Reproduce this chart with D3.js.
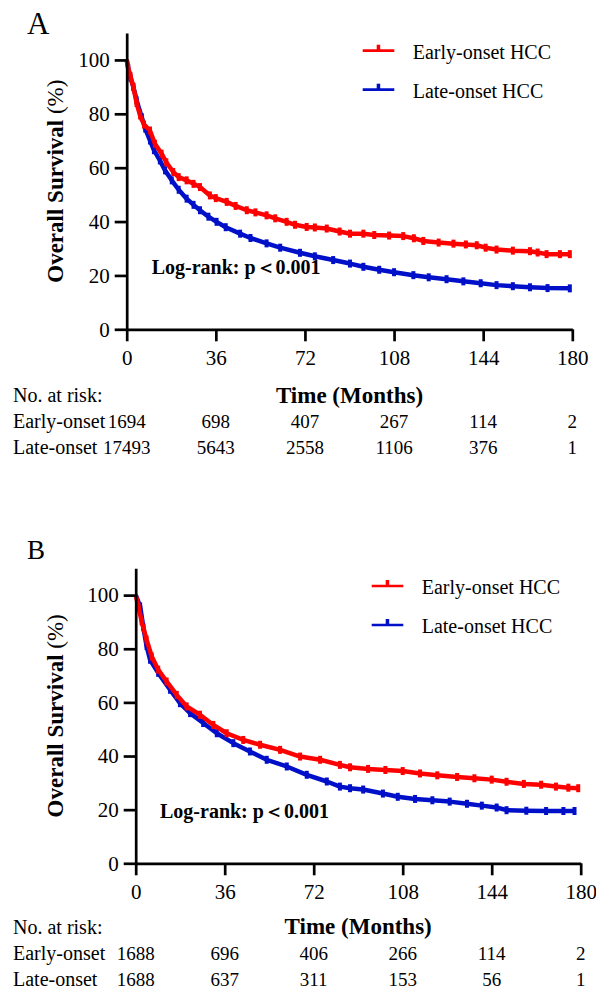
<!DOCTYPE html>
<html>
<head>
<meta charset="utf-8">
<script src="https://cdn.jsdelivr.net/npm/d3@7"></script>
<style>
  html, body { margin: 0; padding: 0; background: #fff; }
  svg { display: block; }
</style>
</head>
<body>
<svg id="chart" width="596" height="989"></svg>
<script>
// ---------------- DATA ----------------
const monthTicks = [0, 36, 72, 108, 144, 180];
const survivalTicks = [0, 20, 40, 60, 80, 100];
const seriesNames = ["Early-onset HCC", "Late-onset HCC"];
const riskRowLabels = ["Early-onset", "Late-onset"];

// Panel A (month, overall survival %)
const earlyA = [[0,100],[0.6,97],[1.5,94],[2.7,90],[4,84],[5.4,79.4],[7,76],[9.4,73.8],[11.4,68.9],[14.1,65.2],[16,62],[18.8,58.4],[21,56.5],[24.2,55.3],[27,54],[29.6,52.8],[33.6,49.7],[36,48.7],[40.4,47.3],[44,45.8],[48.5,44.2],[52,43.4],[56.5,42.3],[60,41.2],[64.6,39.9],[68,38.8],[72.7,38.0],[76,37.8],[80.8,37.4],[86,36.3],[90.2,35.5],[95.6,35.5],[100,35.0],[106,34.8],[111.7,34.6],[116,33.8],[119.8,32.8],[126,32.2],[132,31.8],[137,31.5],[141.4,31.2],[145,30.3],[149.4,29.6],[156,29.2],[162.9,29.0],[166,28.5],[169.6,27.9],[175,27.9],[179,27.9]];
const lateA = [[0,100],[0.6,97],[1.5,93.5],[2.7,89.9],[4,85],[6.1,78.7],[7.5,74.5],[9.4,70.1],[11,66.5],[13.4,62.7],[15.5,59],[18.2,55.3],[21,51.8],[24.2,48.5],[27,46.2],[29.6,44.2],[33,41.8],[36.3,39.9],[40,37.9],[45.8,35.5],[50,33.9],[56.5,31.9],[62,30.3],[70,28.4],[76,27.1],[83.4,25.7],[90.2,24.4],[95.6,23.2],[102,22.1],[108,21.2],[115.8,20.1],[122,19.3],[129.2,18.6],[136,17.8],[143,17.1],[149.4,16.4],[156,16.0],[162.9,15.6],[170,15.3],[179,15.2]];
const riskEarlyA = [1694, 698, 407, 267, 114, 2];
const riskLateA = [17493, 5643, 2558, 1106, 376, 1];

// Panel B (matched cohort)
const earlyB = [[0,100],[1.1,95.8],[2.4,90.2],[4.4,83.4],[6.5,77.1],[9.1,72.2],[12.5,67.8],[16.6,62.8],[20.6,58.5],[26,55.4],[31.4,51.6],[36.8,48.5],[43.5,46.0],[50.3,44.2],[58.4,42.3],[66.5,39.8],[74.6,38.6],[82.6,36.7],[86.7,35.8],[94,35.2],[101,34.8],[108,34.4],[115,33.5],[122,32.8],[130,32.2],[137,31.7],[144,31.2],[150,30.4],[157,29.6],[164,29.3],[170,28.6],[175,28.2],[179,28.0]];
const lateB = [[0,100],[1.8,95.8],[3.1,88],[4.4,81],[5.8,75.9],[9.1,71.0],[13.9,64.7],[17.9,59.7],[22,56.0],[27.3,52.3],[32.8,48.5],[39.5,44.8],[46.2,41.7],[53,38.6],[61.1,36.1],[69.2,33.0],[77.3,30.5],[82.6,28.6],[86.7,28.0],[92,27.5],[100,26.0],[106,24.8],[113,24.0],[120,23.5],[127,23.0],[134,22.2],[140,21.5],[146,20.8],[150,19.8],[158,19.6],[166,19.5],[173,19.5],[177.5,19.5]];
const riskEarlyB = [1688, 696, 406, 266, 114, 2];
const riskLateB = [1688, 637, 311, 153, 56, 1];

const pValueText = "Log-rank: p\uFF1C0.001";

// ---------------- DRAWING ----------------
const FONT = "'Liberation Serif', Tinos, 'Times New Roman', Times, serif";
const colors = ["#ff0000", "#0010c8"];
const svg = d3.select("#chart");

function txt(sel) { return sel.style("font-family", FONT).style("fill", "#000"); }

function drawPanel(cfg) {
  const g = svg.append("g");
  const x = d3.scaleLinear().domain([0, 180]).range([cfg.left, cfg.right]);
  const y = d3.scaleLinear().domain([0, 110]).range([cfg.bottom, cfg.top]);

  // survival curves with censor ticks
  const line = d3.line().x(d => x(d[0])).y(d => y(d[1])).curve(d3.curveLinear);
  [cfg.late, cfg.early].forEach((data, i) => {
    const col = i === 0 ? colors[1] : colors[0];
    g.append("path").datum(data)
      .attr("d", line).attr("fill", "none")
      .attr("stroke", col).attr("stroke-width", 4.5)
      .attr("stroke-linejoin", "round");
    g.selectAll(null).data(data.slice(1)).enter().append("rect")
      .attr("x", d => x(d[0]) - 2).attr("y", d => y(d[1]) - 4)
      .attr("width", 4).attr("height", 8).attr("fill", col);
  });

  // axes
  const yAxis = d3.axisLeft(y).tickValues(survivalTicks).tickSize(12).tickSizeOuter(0).tickPadding(5);
  const xAxis = d3.axisBottom(x).tickValues(monthTicks).tickSize(12).tickSizeOuter(0).tickPadding(9);
  const ya = g.append("g").attr("transform", `translate(${cfg.left},0)`).call(yAxis);
  const xa = g.append("g").attr("transform", `translate(0,${cfg.bottom})`).call(xAxis);
  [ya, xa].forEach(a => {
    a.attr("font-family", null);
    a.select(".domain").attr("stroke", "#000").attr("stroke-width", 2.7);
    a.selectAll(".tick line").attr("stroke", "#000").attr("stroke-width", 2.7);
    txt(a.selectAll(".tick text")).attr("font-size", 21);
  });

  // panel letter
  txt(g.append("text")).attr("x", 27).attr("y", cfg.letterY)
    .attr("font-size", cfg.letterSize).text(cfg.letter);

  // y title
  const yt = txt(g.append("text"))
    .attr("transform", `translate(55,${(cfg.top + cfg.bottom) / 2}) rotate(-90)`)
    .attr("text-anchor", "middle").attr("dominant-baseline", "central")
    .attr("font-size", 23).attr("font-weight", "bold");
  yt.append("tspan").text("Overall Survival ");
  yt.append("tspan").attr("font-weight", "normal").text("(%)");

  // legend
  seriesNames.forEach((name, i) => {
    const ly = cfg.top + 17.7 + i * 39;
    const lx = cfg.left + 236;
    g.append("line").attr("x1", lx).attr("x2", lx + 31.6).attr("y1", ly).attr("y2", ly)
      .attr("stroke", colors[i]).attr("stroke-width", 2.7);
    g.append("rect").attr("x", lx + 14).attr("y", ly - 6).attr("width", 3.5).attr("height", 6)
      .attr("fill", colors[i]);
    txt(g.append("text")).attr("x", lx + 50).attr("y", ly + 1)
      .attr("dominant-baseline", "central").attr("font-size", 20).text(name);
  });

  // log-rank annotation
  txt(g.append("text")).attr("x", cfg.left + cfg.pDx).attr("y", cfg.pY)
    .attr("dominant-baseline", "central").attr("font-size", 20).attr("font-weight", "bold")
    .text(pValueText);

  // x title
  txt(g.append("text")).attr("x", (cfg.left + cfg.right) / 2).attr("y", cfg.titleY)
    .attr("text-anchor", "middle").attr("dominant-baseline", "central")
    .attr("font-size", 23).attr("font-weight", "bold").text("Time (Months)");

  // number at risk table
  txt(g.append("text")).attr("x", 13).attr("y", cfg.titleY)
    .attr("dominant-baseline", "central").attr("font-size", 20).text("No. at risk:");
  [cfg.riskEarly, cfg.riskLate].forEach((row, i) => {
    const ry = cfg.rowY[i];
    txt(g.append("text")).attr("x", 13).attr("y", ry)
      .attr("dominant-baseline", "central").attr("font-size", 20).text(riskRowLabels[i]);
    txt(g.selectAll(null).data(row).enter().append("text"))
      .attr("x", (d, j) => x(monthTicks[j])).attr("y", ry)
      .attr("text-anchor", "middle").attr("dominant-baseline", "central")
      .attr("font-size", 19).text(d => d);
  });
}

drawPanel({
  letter: "A", letterY: 33.5, letterSize: 31,
  left: 126.7, right: 572.3, top: 33, bottom: 329.3,
  early: earlyA, late: lateA, riskEarly: riskEarlyA, riskLate: riskLateA,
  pDx: 25, pY: 267.3, titleY: 395, rowY: [421, 447]
});
drawPanel({
  letter: "B", letterY: 558.5, letterSize: 27,
  left: 135.7, right: 580.7, top: 568.3, bottom: 863.3,
  early: earlyB, late: lateB, riskEarly: riskEarlyB, riskLate: riskLateB,
  pDx: 24.3, pY: 810.7, titleY: 926.7, rowY: [953, 979]
});
</script>
</body>
</html>
